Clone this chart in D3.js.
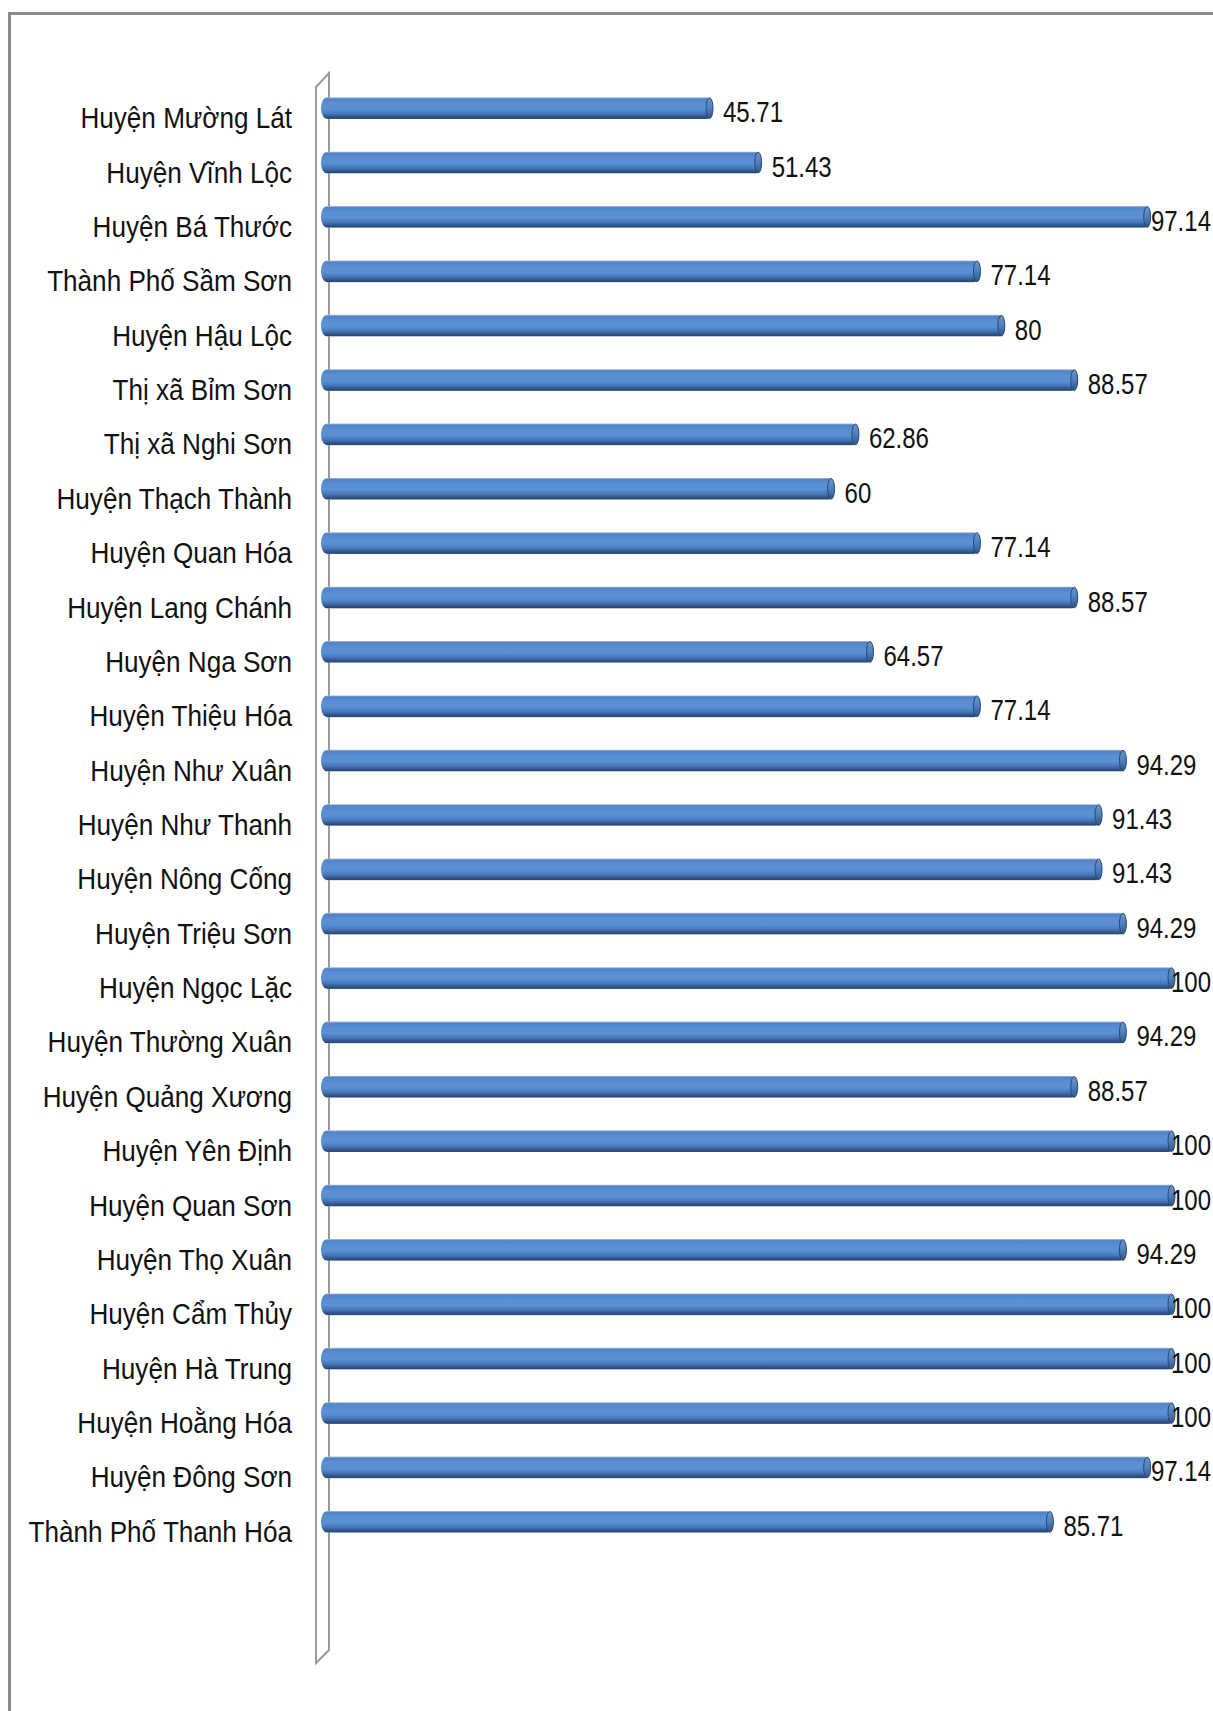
<!DOCTYPE html>
<html>
<head>
<meta charset="utf-8">
<script src="https://cdn.jsdelivr.net/npm/d3@7"></script>
<style>
  html, body { margin: 0; padding: 0; background: #fff; }
  svg { display: block; }
</style>
</head>
<body>
<svg id="chart" width="1213" height="1711"></svg>
<script>
// Districts of Thanh Hóa, top to bottom
const districts = [
  "Huyện Mường Lát", "Huyện Vĩnh Lộc", "Huyện Bá Thước", "Thành Phố Sầm Sơn",
  "Huyện Hậu Lộc", "Thị xã Bỉm Sơn", "Thị xã Nghi Sơn", "Huyện Thạch Thành",
  "Huyện Quan Hóa", "Huyện Lang Chánh", "Huyện Nga Sơn", "Huyện Thiệu Hóa",
  "Huyện Như Xuân", "Huyện Như Thanh", "Huyện Nông Cống", "Huyện Triệu Sơn",
  "Huyện Ngọc Lặc", "Huyện Thường Xuân", "Huyện Quảng Xương", "Huyện Yên Định",
  "Huyện Quan Sơn", "Huyện Thọ Xuân", "Huyện Cẩm Thủy", "Huyện Hà Trung",
  "Huyện Hoằng Hóa", "Huyện Đông Sơn", "Thành Phố Thanh Hóa"
];
const values = [
  45.71, 51.43, 97.14, 77.14,
  80, 88.57, 62.86, 60,
  77.14, 88.57, 64.57, 77.14,
  94.29, 91.43, 91.43, 94.29,
  100, 94.29, 88.57, 100,
  100, 94.29, 100, 100,
  100, 97.14, 85.71
];
const xDomain = [0, 100];

const data = districts.map((d, i) => ({ name: d, value: values[i] }));

const svg = d3.select("#chart");
const W = 1213, H = 1711;

// outer chart-area border (top and left edges visible)
svg.append("path")
  .attr("d", `M9.5,${H} L9.5,13.5 L${W},13.5`)
  .attr("fill", "none")
  .attr("stroke", "#8a8a8a")
  .attr("stroke-width", 3);

const x = d3.scaleLinear().domain(xDomain).range([324, 1175]);
const y = d3.scaleBand().domain(districts).range([81, 1549])
  .paddingInner(0.6).paddingOuter(0.3);

// 3D side wall behind the bars
const wl = 316, wr = 329;
svg.append("path")
  .attr("d", `M${wl},87 L${wr},73 L${wr},1650 L${wl},1663 Z`)
  .attr("fill", "#fff")
  .attr("stroke", "#9a9a9a")
  .attr("stroke-width", 2)
  .attr("stroke-linejoin", "miter");

// cylinder shading
const defs = svg.append("defs");
const grad = defs.append("linearGradient").attr("id", "cyl")
  .attr("x1", 0).attr("y1", 0).attr("x2", 0).attr("y2", 1);
[[0, "#aac0dc"], [0.07, "#5283c4"], [0.3, "#5990d5"], [0.55, "#5a8fd3"],
 [0.75, "#4677b8"], [0.9, "#2e5488"], [0.97, "#2a4670"], [1, "#8197b0"]]
  .forEach(([o, c]) => grad.append("stop").attr("offset", o).attr("stop-color", c));
const capGrad = defs.append("linearGradient").attr("id", "cap")
  .attr("x1", 0).attr("y1", 0).attr("x2", 0).attr("y2", 1);
[[0, "#6f95c6"], [0.5, "#4e7fbd"], [1, "#2f5586"]]
  .forEach(([o, c]) => capGrad.append("stop").attr("offset", o).attr("stop-color", c));

const bw = y.bandwidth();
const bars = svg.append("g").selectAll("g").data(data).join("g");

bars.append("rect")
  .attr("x", x(0) - 3)
  .attr("y", d => y(d.name))
  .attr("width", d => x(d.value) - x(0) + 3)
  .attr("height", bw)
  .attr("rx", 6).attr("ry", bw / 2)
  .attr("fill", "url(#cyl)");

bars.append("ellipse")
  .attr("cx", d => x(d.value) - 3.5)
  .attr("cy", d => y(d.name) + bw / 2)
  .attr("rx", 3.5)
  .attr("ry", bw / 2 - 0.5)
  .attr("fill", "url(#cap)")
  .attr("stroke", "#2b4a76")
  .attr("stroke-width", 1);

// category axis (labels drawn condensed)
const sx = 0.87;
const yAxis = d3.axisLeft(y).tickSize(0).tickPadding(0);
const ag = svg.append("g").attr("transform", "translate(292,0)").call(yAxis);
ag.select(".domain").remove();
ag.selectAll("text")
  .attr("x", 0)
  .attr("dy", null)
  .attr("y", 20)
  .attr("transform", `scale(${sx},1)`)
  .attr("font-family", "'Liberation Sans', Arial, sans-serif")
  .attr("font-size", 30)
  .attr("fill", "#111")
  .attr("text-anchor", "end");

// value labels (condensed digits)
const vx = 0.8;
const labels = svg.append("g").selectAll("text").data(data).join("text")
  .attr("y", d => y(d.name) + bw / 2 + 14)
  .attr("font-family", "'Liberation Sans', Arial, sans-serif")
  .attr("font-size", 30)
  .attr("fill", "#111")
  .text(d => d.value);
labels.each(function(d) {
  const w = this.getComputedTextLength() * vx;
  const px = Math.min(x(d.value) + 10, W - 2 - w);
  d3.select(this).attr("x", px / vx).attr("transform", `scale(${vx},1)`);
});
</script>
</body>
</html>
